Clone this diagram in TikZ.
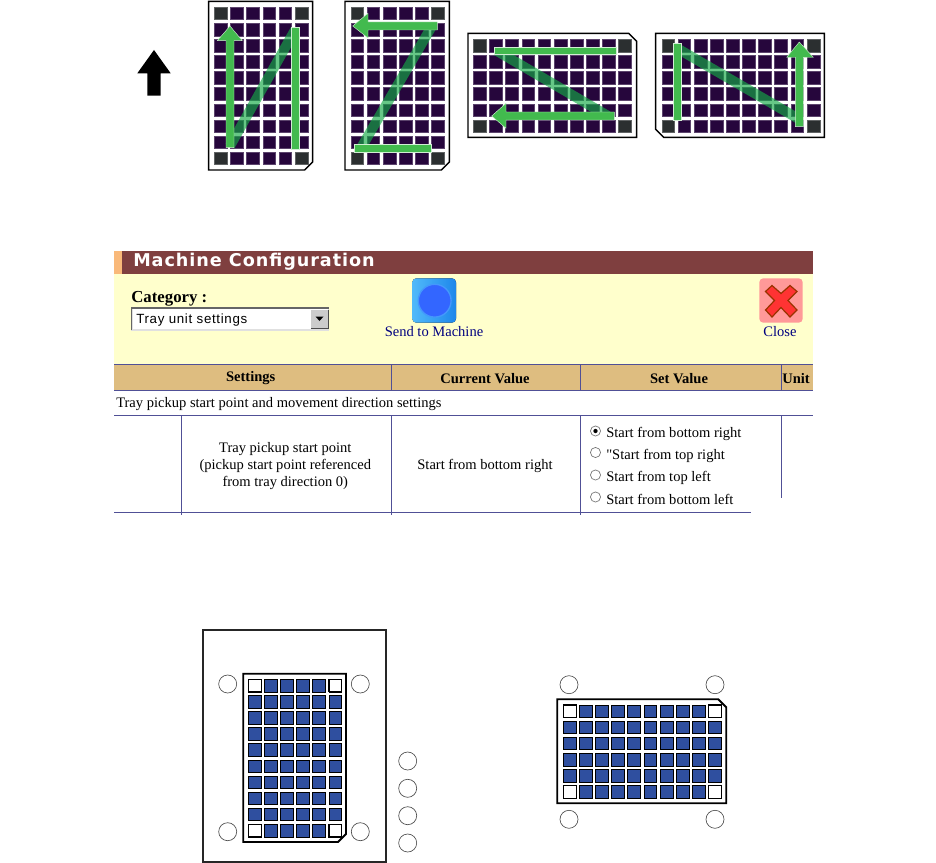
\documentclass[tikz,border=0pt]{standalone}
\usepackage{fontspec}
\setmainfont{Liberation Serif}
\newfontfamily\PlainSerif{Liberation Serif}
\newfontfamily\TitleFont[LetterSpace=5.4]{DejaVu Sans}
\newfontfamily\BoxFont[LetterSpace=5]{Liberation Sans}
\usepackage{xcolor}
\usepackage{tikz}
\definecolor{ColCell}{RGB}{38,6,60}
\definecolor{ColCorner}{RGB}{43,47,48}
\definecolor{ColBar}{RGB}{66,186,78}
\definecolor{ColDiag}{RGB}{20,170,70}
\definecolor{ColBlue}{RGB}{47,79,159}
\definecolor{ColBrown}{RGB}{127,63,63}
\definecolor{ColOrange}{RGB}{249,185,122}
\definecolor{ColPanel}{RGB}{255,255,204}
\definecolor{ColHead}{RGB}{222,189,128}
\definecolor{ColRule}{RGB}{80,80,150}
\definecolor{ColLink}{RGB}{0,0,128}
\definecolor{ColSendA}{RGB}{80,185,250}
\definecolor{ColSendB}{RGB}{30,135,235}
\definecolor{ColSendDot}{RGB}{51,102,255}
\definecolor{ColCloseBg}{RGB}{255,153,153}
\definecolor{ColCloseX}{RGB}{255,51,51}
\definecolor{ColCloseEdge}{RGB}{153,51,0}

% cells of one tray: x, y, last column, last row, cell style, corner style
\newcommand{\TrayCells}[6]{
  \foreach \ci in {0,...,#3}{
    \foreach \cj in {0,...,#4}{
      \path[#5] ({#1+\ci*16.14},{#2+\cj*16.12}) rectangle +(12.8,12.6);
    }
  }
  \foreach \ci in {0,#3}{
    \foreach \cj in {0,#4}{
      \path[#6] ({#1+\ci*16.14},{#2+\cj*16.12}) rectangle +(12.8,12.6);
    }
  }
}

\begin{document}
\begin{tikzpicture}[
  x=0.75pt,
  y=-0.75pt,
  line join=miter,
  trayline/.style={draw=black, line width=1.1pt, fill=white},
  cellpurple/.style={draw=ColCell!75!white, line width=0.3pt, fill=ColCell},
  cellgrey/.style={draw=ColCorner!75!white, line width=0.3pt, fill=ColCorner},
  cellblue/.style={draw=black, line width=0.6pt, fill=ColBlue},
  cellwhite/.style={draw=black, line width=0.8pt, fill=white},
  greenbar/.style={draw=white!75!ColBar, line width=0.3pt, fill=ColBar},
  diagbar/.style={draw=ColDiag, line width=7.5pt, draw opacity=0.65},
  rulev/.style={draw=ColRule, line width=1pt},
  hole/.style={circle, draw=black!70, line width=0.5pt, minimum size=13.5pt, inner sep=0pt},
  radio/.style={circle, draw=black!55, line width=0.5pt, fill=white, minimum size=7.6pt, inner sep=0pt},
  every node/.style={font=\fontsize{10.9}{12}\selectfont, inner sep=0pt},
  headtext/.style={font=\fontsize{10.9}{12}\selectfont\bfseries},
  linktext/.style={text=ColLink, font=\fontsize{10.9}{12}\selectfont}
]
  \useasboundingbox (0,0) rectangle (936,863);

  % Direction arrow
  \fill[black] (154,50) -- (170.7,73.3) -- (160.7,73.3) -- (160.7,95.7) -- (147.3,95.7) -- (147.3,73.3) -- (137.3,73.3) -- cycle;

  % Tray 1
  \draw[trayline] (208.7,1.3) -- (312.7,1.3) -- (312.7,162) -- (304.7,170) -- (208.7,170) -- cycle;
  \TrayCells{214.3}{7}{5}{9}{cellpurple}{cellgrey}
  \draw[diagbar] (230,146) -- (295,30);
  \draw[greenbar] (226,147.7) -- (226,40.7) -- (217.3,40.7) -- (230,26) -- (242.3,40.7) -- (234,40.7) -- (234,147.7) -- cycle;
  \draw[greenbar] (291.3,27.7) rectangle (299.3,149.7);

  % Tray 2
  \draw[trayline] (345,1.3) -- (449.3,1.3) -- (449.3,162) -- (441.3,170) -- (345,170) -- cycle;
  \TrayCells{350.7}{7}{5}{9}{cellpurple}{cellgrey}
  \draw[diagbar] (361,148) -- (432,26);
  \draw[greenbar] (437.3,22) -- (368,22) -- (368,13.3) -- (352.7,26) -- (368,38) -- (368,30) -- (437.3,30) -- cycle;
  \draw[greenbar] (354.3,144.3) rectangle (431.3,152.3);

  % Tray 3
  \draw[trayline] (468,33.3) -- (628.7,33.3) -- (636.7,41.3) -- (636.7,137.3) -- (468,137.3) -- cycle;
  \TrayCells{473.3}{39.3}{9}{5}{cellpurple}{cellgrey}
  \draw[diagbar] (497,51) -- (608,116);
  \draw[greenbar] (494,47.3) rectangle (616,54.7);
  \draw[greenbar] (614.3,112) -- (506,112) -- (506,103.3) -- (491.7,116) -- (506,128.3) -- (506,120) -- (614.3,120) -- cycle;

  % Tray 4
  \draw[trayline] (655.7,33.3) -- (824.3,33.3) -- (824.3,137.3) -- (663.7,137.3) -- (655.7,129.3) -- cycle;
  \TrayCells{661.7}{39.3}{9}{5}{cellpurple}{cellgrey}
  \draw[diagbar] (677.3,48.4) -- (799.3,119.3);
  \draw[greenbar] (673.3,43.3) rectangle (681.3,120.7);
  \draw[greenbar] (795.3,126.7) -- (795.3,57.3) -- (786.7,57.3) -- (799.3,42) -- (813.3,57.3) -- (803.3,57.3) -- (803.3,126.7) -- cycle;

  % Window panels
  \fill[ColBrown] (114,251) rectangle (813,274.3);
  \fill[ColOrange] (114,251) rectangle (121.7,274.3);
  \fill[ColPanel] (114,274.3) rectangle (813,364.3);
  \fill[ColHead] (114,364.3) rectangle (813,390);
  \node[anchor=base west, text=white, font=\TitleFont\bfseries\fontsize{13.2}{15}\selectfont] (title) at (133,267) {Machine Configuration};

  % Category box
  \node[anchor=west, font=\fontsize{12.6}{14}\selectfont\bfseries] (category) at (131,298.5) {Category :};
  \fill[black!12] (130.7,307.3) rectangle (329.3,330.7);
  \fill[white] (132.5,309) rectangle (327.5,328.5);
  \draw[black!60, line width=1pt] (131.5,330) -- (131.5,308) -- (329,308);
  \fill[black!20] (311,310) rectangle (328,328);
  \draw[black!70, line width=0.5pt] (311,328) -- (328,328) -- (328,310);
  \fill[black] (315.5,316.5) -- (323.5,316.5) -- (319.5,321) -- cycle;
  \node[anchor=west, font=\BoxFont\fontsize{10}{11}\selectfont] (traybox) at (136,320.5) {Tray unit settings};

  % Send button
  \fill[rounded corners=3pt, left color=ColSendA, right color=ColSendB] (412.3,278.3) rectangle (456,322.7);
  \node[circle, minimum size=24.6pt, fill=ColSendDot, draw=ColSendA!60!ColSendDot, line width=1pt] (sendmark) at (434.7,300.7) {};
  \node[linktext] (sendtext) at (434,331.5) {Send to Machine};

  % Close button
  \fill[rounded corners=3pt, fill=ColCloseBg] (759.3,278.3) rectangle (802.7,322.7);
  \draw[draw=ColCloseEdge, fill=ColCloseX, line width=0.9pt] (781,293.5) -- (790,285.5) -- (797,291.5) -- (788,300.5) -- (797,310) -- (790,317) -- (781,307.5) -- (772,317) -- (765.5,310) -- (774.5,300.5) -- (765.5,291.5) -- (772,285.5) -- cycle;
  \node[linktext] (closetext) at (780,331.5) {Close};

  % Table header
  \node[headtext] (hsettings) at (250.7,378.5) {Settings};
  \node[headtext] (hcurrent) at (485,378.5) {Current Value};
  \node[headtext] (hset) at (679,378.5) {Set Value};
  \node[headtext] (hunit) at (796,378.5) {Unit};

  % Table rules
  \draw[rulev] (114,364.5) -- (813,364.5);
  \draw[rulev] (114,390.5) -- (813,390.5);
  \draw[rulev] (114,415.5) -- (813,415.5);
  \draw[rulev] (114,512.5) -- (751,512.5);
  \foreach \rx in {391.5,580.5,781.5}{
    \draw[rulev, line width=0.8pt] (\rx,364.5) -- (\rx,390);
  }
  \foreach \rx in {181.5,391.5,580.5}{
    \draw[rulev, line width=0.8pt] (\rx,415.3) -- (\rx,514.5);
  }
  \draw[rulev, line width=0.8pt] (781.5,415.3) -- (781.5,498);

  % Table texts
  \node[anchor=west] (rowtitle) at (116,404) {Tray pickup start point and movement direction settings};
  \node[align=center] (rowname) at (285.3,466) {Tray pickup start point\\[0.4pt](pickup start point referenced\\[0.4pt]from tray direction 0)};
  \node (rowvalue) at (485,465.5) {Start from bottom right};

  \node[radio] (radioa) at (595.5,431) {};
  \fill[black] (radioa) circle (1.6pt);
  \node[radio] (radiob) at (595.5,452.5) {};
  \node[radio] (radioc) at (595.5,475) {};
  \node[radio] (radiod) at (595.5,497) {};
  \node[anchor=west] (texta) at (606,433.5) {Start from bottom right};
  \node[anchor=west] (textb) at (606,455.5) {\PlainSerif"Start from top right};
  \node[anchor=west] (textc) at (606,477.5) {Start from top left};
  \node[anchor=west] (textd) at (606,499.5) {Start from bottom left};

  % Portrait tray in its frame
  \draw[draw=black!85, line width=1.1pt] (203,630) rectangle (386,862);
  \draw[trayline, line width=1.4pt] (243.3,673.7) -- (346,673.7) -- (346,834) -- (338,842) -- (243.3,842) -- cycle;
  \TrayCells{248.3}{679.3}{5}{9}{cellblue}{cellwhite}
  \node[hole] (pa) at (227.7,684) {};
  \node[hole] (pb) at (360.3,684) {};
  \node[hole] (pc) at (227.7,831.7) {};
  \node[hole] (pd) at (360.3,831.7) {};
  \foreach \sn/\sy in {a/761,b/788.3,c/815.7,d/843}{
    \node[hole] (s\sn) at (407.7,\sy) {};
  }

  % Landscape tray
  \draw[trayline, line width=1.4pt] (557.3,699.3) -- (718.3,699.3) -- (726.3,707.3) -- (726.3,803.3) -- (557.3,803.3) -- cycle;
  \TrayCells{563.3}{705}{9}{5}{cellblue}{cellwhite}
  \node[hole] (qa) at (569,684.7) {};
  \node[hole] (qb) at (715,684.7) {};
  \node[hole] (qc) at (569,819.3) {};
  \node[hole] (qd) at (715,819.3) {};
\end{tikzpicture}
\end{document}
